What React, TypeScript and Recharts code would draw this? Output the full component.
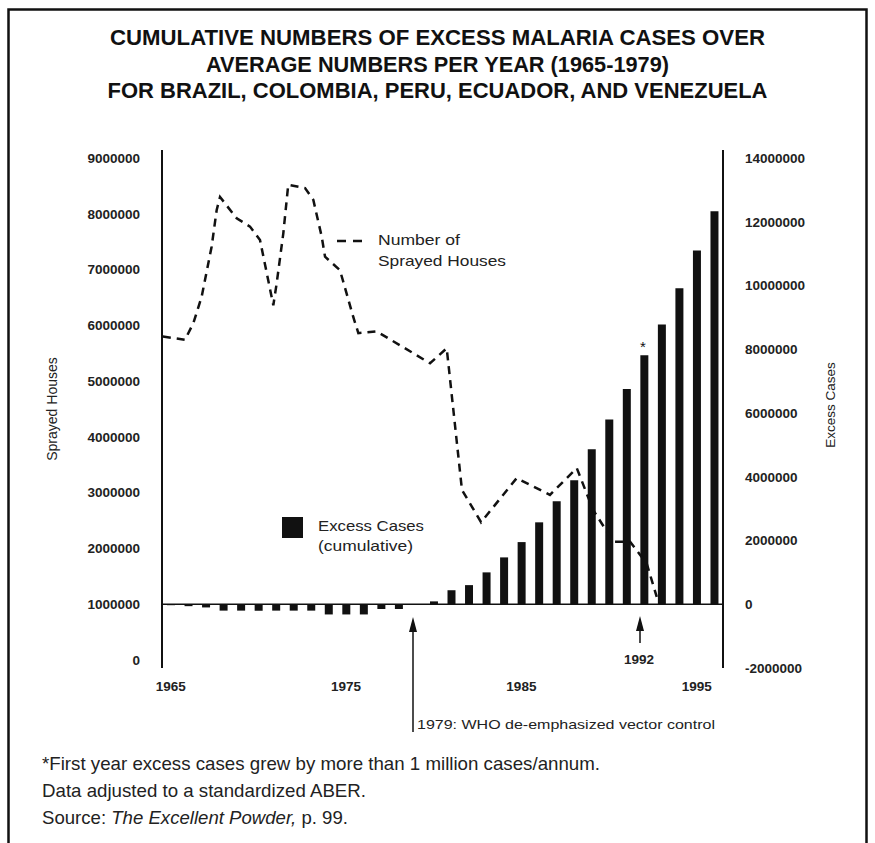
import React from 'react';
import { ComposedChart, Bar, Line, XAxis, YAxis, ReferenceLine } from 'recharts';

// ---------- data ----------
const years = [
  1965, 1966, 1967, 1968, 1969, 1970, 1971, 1972, 1973, 1974, 1975, 1976, 1977, 1978, 1979, 1980,
  1981, 1982, 1983, 1984, 1985, 1986, 1987, 1988, 1989, 1990, 1991, 1992, 1993, 1994, 1995, 1996,
];
// cumulative excess cases, millions
const excessCasesMillions = [
  -0.03, -0.06, -0.1, -0.2, -0.2, -0.2, -0.2, -0.2, -0.2, -0.32, -0.32, -0.32, -0.15, -0.15, 0, 0.09,
  0.44, 0.6, 1.0, 1.47, 1.95, 2.57, 3.23, 3.89, 4.86, 5.8, 6.75, 7.81, 8.78, 9.91, 11.1, 12.33,
];
// sprayed houses (dashed curve), x positions in years and values in millions
const sprayYears = [
  1964.55, 1965.81, 1966.29, 1966.76, 1967.33, 1967.62, 1967.81, 1968.76, 1969.52, 1970.09, 1970.85,
  1971.04, 1971.42, 1971.7, 1972.66, 1973.13, 1973.61, 1973.8, 1974.65, 1975.41, 1975.7, 1976.75,
  1979.79, 1980.74, 1981.61, 1982.7, 1984.73, 1986.63, 1988.16, 1989.09, 1990.25, 1991.2, 1992.15,
  1992.72,
];
const sprayedHousesMillions = [
  5.8, 5.74, 6.04, 6.51, 7.41, 8.07, 8.3, 7.92, 7.77, 7.53, 6.36,
  6.75, 7.65, 8.52, 8.46, 8.25, 7.59, 7.23, 6.99, 6.15, 5.86, 5.89,
  5.32, 5.59, 3.05, 2.47, 3.26, 2.96, 3.44, 2.69, 2.12, 2.12, 1.73,
  1.13,
];
const leftTicks = [0, 1000000, 2000000, 3000000, 4000000, 5000000, 6000000, 7000000, 8000000, 9000000];
const rightTicks = [-2000000, 0, 2000000, 4000000, 6000000, 8000000, 10000000, 12000000, 14000000];
const xTicks = [1965, 1975, 1985, 1995];

const titleLines = [
  'CUMULATIVE NUMBERS OF EXCESS MALARIA CASES OVER',
  'AVERAGE NUMBERS PER YEAR (1965-1979)',
  'FOR BRAZIL, COLOMBIA, PERU, ECUADOR, AND VENEZUELA',
];
const leftAxisTitle = 'Sprayed Houses';
const rightAxisTitle = 'Excess Cases';
const lineLegend = ['Number of', 'Sprayed Houses'];
const barLegend = ['Excess Cases', '(cumulative)'];
const whoNote = '1979: WHO de-emphasized vector control';
const markYear = '1992';
const footnote1 = '*First year excess cases grew by more than 1 million cases/annum.';
const footnote2 = 'Data adjusted to a standardized ABER.';

const barData = years.map((year, i) => ({ year, cases: excessCasesMillions[i] * 1e6 }));
const lineData = sprayYears.map((year, i) => ({ year, houses: sprayedHousesMillions[i] * 1e6 }));

const SANS = '"Liberation Sans", Arial, Helvetica, sans-serif';
const INK = '#111';
const tickStyle = { fontSize: 13.5, fill: '#222', fontFamily: SANS, fontWeight: 600 };

export default function App() {
  return (
    <div style={{ position: 'absolute', left: 0, top: 0, width: 875, height: 843, background: '#fff', overflow: 'hidden' }}>
      <div style={{ position: 'absolute', left: 0, top: 0 }}>
        <ComposedChart
          width={875}
          height={843}
          data={barData}
          margin={{ top: 150, right: 22, bottom: 145, left: 42 }}
        >
          <XAxis xAxisId="cat" dataKey="year" type="category" hide height={0} />
          <XAxis
            xAxisId="num"
            dataKey="year"
            type="number"
            domain={[1964.5, 1996.5]}
            allowDataOverflow
            ticks={xTicks}
            axisLine={false}
            tickLine={false}
            tickSize={0}
            tickMargin={13}
            height={30}
            tick={tickStyle}
          />
          <YAxis
            yAxisId="left"
            orientation="left"
            width={120}
            domain={[0, 9000000]}
            ticks={leftTicks}
            interval={0}
            padding={{ top: 8, bottom: 8 }}
            axisLine={{ stroke: INK, strokeWidth: 2 }}
            tickLine={false}
            tickSize={0}
            tickMargin={22}
            tick={tickStyle}
          />
          <YAxis
            yAxisId="right"
            orientation="right"
            width={130}
            domain={[-2000000, 14000000]}
            ticks={rightTicks}
            interval={0}
            padding={{ top: 8, bottom: 0 }}
            axisLine={{ stroke: INK, strokeWidth: 2 }}
            tickLine={false}
            tickSize={0}
            tickMargin={22}
            tick={tickStyle}
          />
          <ReferenceLine xAxisId="num" yAxisId="right" y={0} stroke={INK} strokeWidth={1.5} />
          <Bar
            xAxisId="cat"
            yAxisId="right"
            dataKey="cases"
            fill={INK}
            barSize={8}
            isAnimationActive={false}
          />
          <Line
            xAxisId="num"
            yAxisId="left"
            data={lineData}
            dataKey="houses"
            type="linear"
            stroke={INK}
            strokeWidth={2.5}
            strokeDasharray="8 6"
            dot={false}
            activeDot={false}
            isAnimationActive={false}
          />
        </ComposedChart>
      </div>
      <svg
        width={875}
        height={843}
        style={{ position: 'absolute', left: 0, top: 0, pointerEvents: 'none' }}
      >
        <rect x={8.5} y={9.5} width={858} height={900} fill="none" stroke={INK} strokeWidth={2.5} />
        {titleLines.map((t, i) => (
          <text
            key={t}
            x={437.5}
            y={45 + i * 26.5}
            textAnchor="middle"
            fontFamily={SANS}
            fontWeight={700}
            fontSize={21.5}
            fill={INK}
            textLength={[655, 463, 660][i]}
            lengthAdjust="spacingAndGlyphs"
          >
            {t}
          </text>
        ))}
        {/* axis titles */}
        <text x={0} y={0} transform="translate(57,409) rotate(-90)" textAnchor="middle" fontFamily={SANS} fontSize={14} fill="#222">{leftAxisTitle}</text>
        <text x={0} y={0} transform="translate(835,405) rotate(-90)" textAnchor="middle" fontFamily={SANS} fontSize={13.5} fill="#222">{rightAxisTitle}</text>
        {/* line legend */}
        <line x1={337} y1={241} x2={367} y2={241} stroke={INK} strokeWidth={2.5} strokeDasharray="9 7" />
        <text x={378} y={245} fontFamily={SANS} fontSize={15} fill="#222" textLength={82} lengthAdjust="spacingAndGlyphs">{lineLegend[0]}</text>
        <text x={378} y={266} fontFamily={SANS} fontSize={15} fill="#222" textLength={128} lengthAdjust="spacingAndGlyphs">{lineLegend[1]}</text>
        {/* bar legend */}
        <rect x={282} y={517} width={21} height={21} fill={INK} />
        <text x={318} y={531} fontFamily={SANS} fontSize={15} fill="#222" textLength={106} lengthAdjust="spacingAndGlyphs">{barLegend[0]}</text>
        <text x={318} y={551} fontFamily={SANS} fontSize={15} fill="#222" textLength={95} lengthAdjust="spacingAndGlyphs">{barLegend[1]}</text>
        {/* star over 1992 */}
        <text x={643} y={352} textAnchor="middle" fontFamily={SANS} fontSize={15} fill={INK}>*</text>
        {/* 1992 arrow */}
        <line x1={640} y1={643} x2={640} y2={628} stroke={INK} strokeWidth={1.5} />
        <polygon points="640,616 636,631 644,631" fill={INK} />
        <text x={639} y={664} textAnchor="middle" fontFamily={SANS} fontWeight={600} fontSize={13.5} fill="#222">{markYear}</text>
        {/* 1979 arrow */}
        <line x1={413} y1={732} x2={413} y2={630} stroke={INK} strokeWidth={1.5} />
        <polygon points="413,617 409,632 417,632" fill={INK} />
        <text x={417} y={729} fontFamily={SANS} fontSize={13} fill="#222" textLength={298} lengthAdjust="spacingAndGlyphs">{whoNote}</text>
        {/* footnotes */}
        <text x={42} y={770} fontFamily={SANS} fontSize={19} fill="#222" textLength={558} lengthAdjust="spacingAndGlyphs">{footnote1}</text>
        <text x={42} y={797} fontFamily={SANS} fontSize={19} fill="#222" textLength={324} lengthAdjust="spacingAndGlyphs">{footnote2}</text>
        <text x={42} y={824} fontFamily={SANS} fontSize={19} fill="#222" textLength={306} lengthAdjust="spacingAndGlyphs">
          <tspan>Source: </tspan>
          <tspan fontStyle="italic">The Excellent Powder,</tspan>
          <tspan> p. 99.</tspan>
        </text>
      </svg>
    </div>
  );
}
